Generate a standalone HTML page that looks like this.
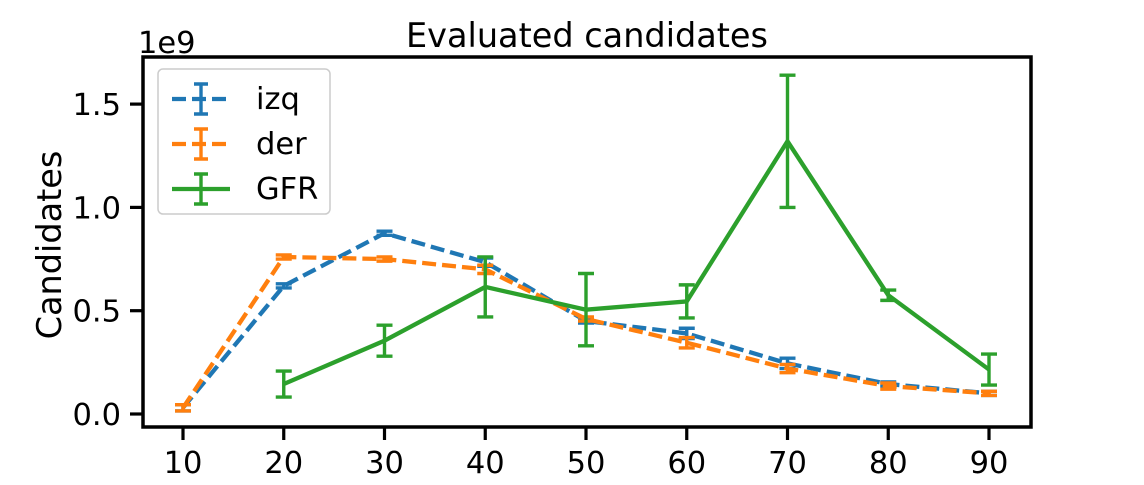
<!DOCTYPE html>
<html><head><meta charset="utf-8"><style>
body{margin:0;background:#fff;}
svg text{font-family:"DejaVu Sans","Liberation Sans",sans-serif;}
</style></head><body>
<svg id="chart" width="1144" height="480" xmlns="http://www.w3.org/2000/svg">
<rect width="1144" height="480" fill="#fff"/>
<g id="plot"></g>
</svg>
<script>
const categories=[10,20,30,40,50,60,70,80,90];
const izqValues=[0.03,0.62,0.875,0.735,0.45,0.39,0.245,0.145,0.10];
const izqErrors=[0.015,0.01,0.01,0.02,0.01,0.025,0.025,0.01,0.01];
const derValues=[0.03,0.76,0.75,0.70,0.46,0.345,0.22,0.135,0.10];
const derErrors=[0.015,0.01,0.01,0.02,0.01,0.025,0.02,0.015,0.01];
const gfrCategories=[20,30,40,50,60,70,80,90];
const gfrValues=[0.145,0.355,0.615,0.505,0.545,1.32,0.575,0.215];
const gfrErrors=[0.063,0.075,0.145,0.175,0.08,0.32,0.025,0.075];
const yTicks=[0,0.5,1.0,1.5];
const yTickLabels=["0.0","0.5","1.0","1.5"];

const NS="http://www.w3.org/2000/svg";
const g=document.getElementById('plot');
const L=143,R=1031,T=57,B=427;
function xs(v){return 183+(v-10)*10.075;}
function ys(v){return 414-v*206.6;}
function el(tag,attrs,parent){const e=document.createElementNS(NS,tag);for(const k in attrs)e.setAttribute(k,attrs[k]);(parent||g).appendChild(e);return e;}

categories.forEach(c=>{
  const t=el('line',{x1:xs(c),x2:xs(c),y1:B,y2:B+13,stroke:'#000','stroke-width':3.2});
  
  
  const tx=el('text',{x:xs(c),y:B+46,'text-anchor':'middle','font-size':30.5});
  tx.textContent=c;
  
  
});
yTicks.forEach((v,i)=>{
  const t=el('line',{x1:L-13,x2:L,y1:ys(v),y2:ys(v),stroke:'#000','stroke-width':3.2});
  
  
  const tx=el('text',{x:L-22,y:ys(v)+11,'text-anchor':'end','font-size':30.5});
  tx.textContent=yTickLabels[i];
  
  
});

function series(xv,vals,errs,color,dash,name){
  const grp=el('g',{});
  
  
  xv.forEach((c,i)=>{
    const x=xs(c),y1=ys(vals[i]-errs[i]),y2=ys(vals[i]+errs[i]);
    const e=el('path',{d:`M${x},${y1}V${y2}M${x-8},${y1}H${x+8}M${x-8},${y2}H${x+8}`,stroke:color,'stroke-width':3.4,fill:'none'},grp);
    
    
  });
  const pts=xv.map((c,i)=>xs(c)+','+ys(vals[i])).join(' ');
  const p=el('polyline',{points:pts,stroke:color,'stroke-width':4.3,fill:'none','stroke-dasharray':dash||'none'},grp);
  
  
}
series(categories,izqValues,izqErrors,'#1f77b4','14,6','izq');
series(categories,derValues,derErrors,'#ff7f0e','14,6','der');
series(gfrCategories,gfrValues,gfrErrors,'#2ca02c',null,'gfr');

const frame=el('rect',{x:L,y:T,width:R-L,height:B-T,fill:'none',stroke:'#000','stroke-width':3.5});



const title=el('text',{x:587,y:47,'text-anchor':'middle','font-size':33.5});
title.textContent='Evaluated candidates';


const yl=el('text',{x:61,y:245,'text-anchor':'middle','font-size':33.5,transform:'rotate(-90 61 245)'});
yl.textContent='Candidates';


const off=el('text',{x:138,y:53,'font-size':30.5});
off.textContent='1e9';



const lg=el('g',{});


el('rect',{x:158,y:69,width:172,height:145,rx:5,fill:'#fff',stroke:'#ccc','stroke-width':1.5},lg);
const items=[['izq','#1f77b4','14,6'],['der','#ff7f0e','14,6'],['GFR','#2ca02c',null]];
items.forEach((it,i)=>{
  const y=99+i*45;
  const e=el('g',{},lg);
  
  
  el('line',{x1:172,x2:230,y1:y,y2:y,stroke:it[1],'stroke-width':4.3,'stroke-dasharray':it[2]||'none'},e);
  el('path',{d:`M201,${y-15}V${y+15}M194,${y-15}H208M194,${y+15}H208`,stroke:it[1],'stroke-width':3.4},e);
  const t=el('text',{x:256,y:y+10,'font-size':30.5},e);
  t.textContent=it[0];
});
</script>
</body></html>
